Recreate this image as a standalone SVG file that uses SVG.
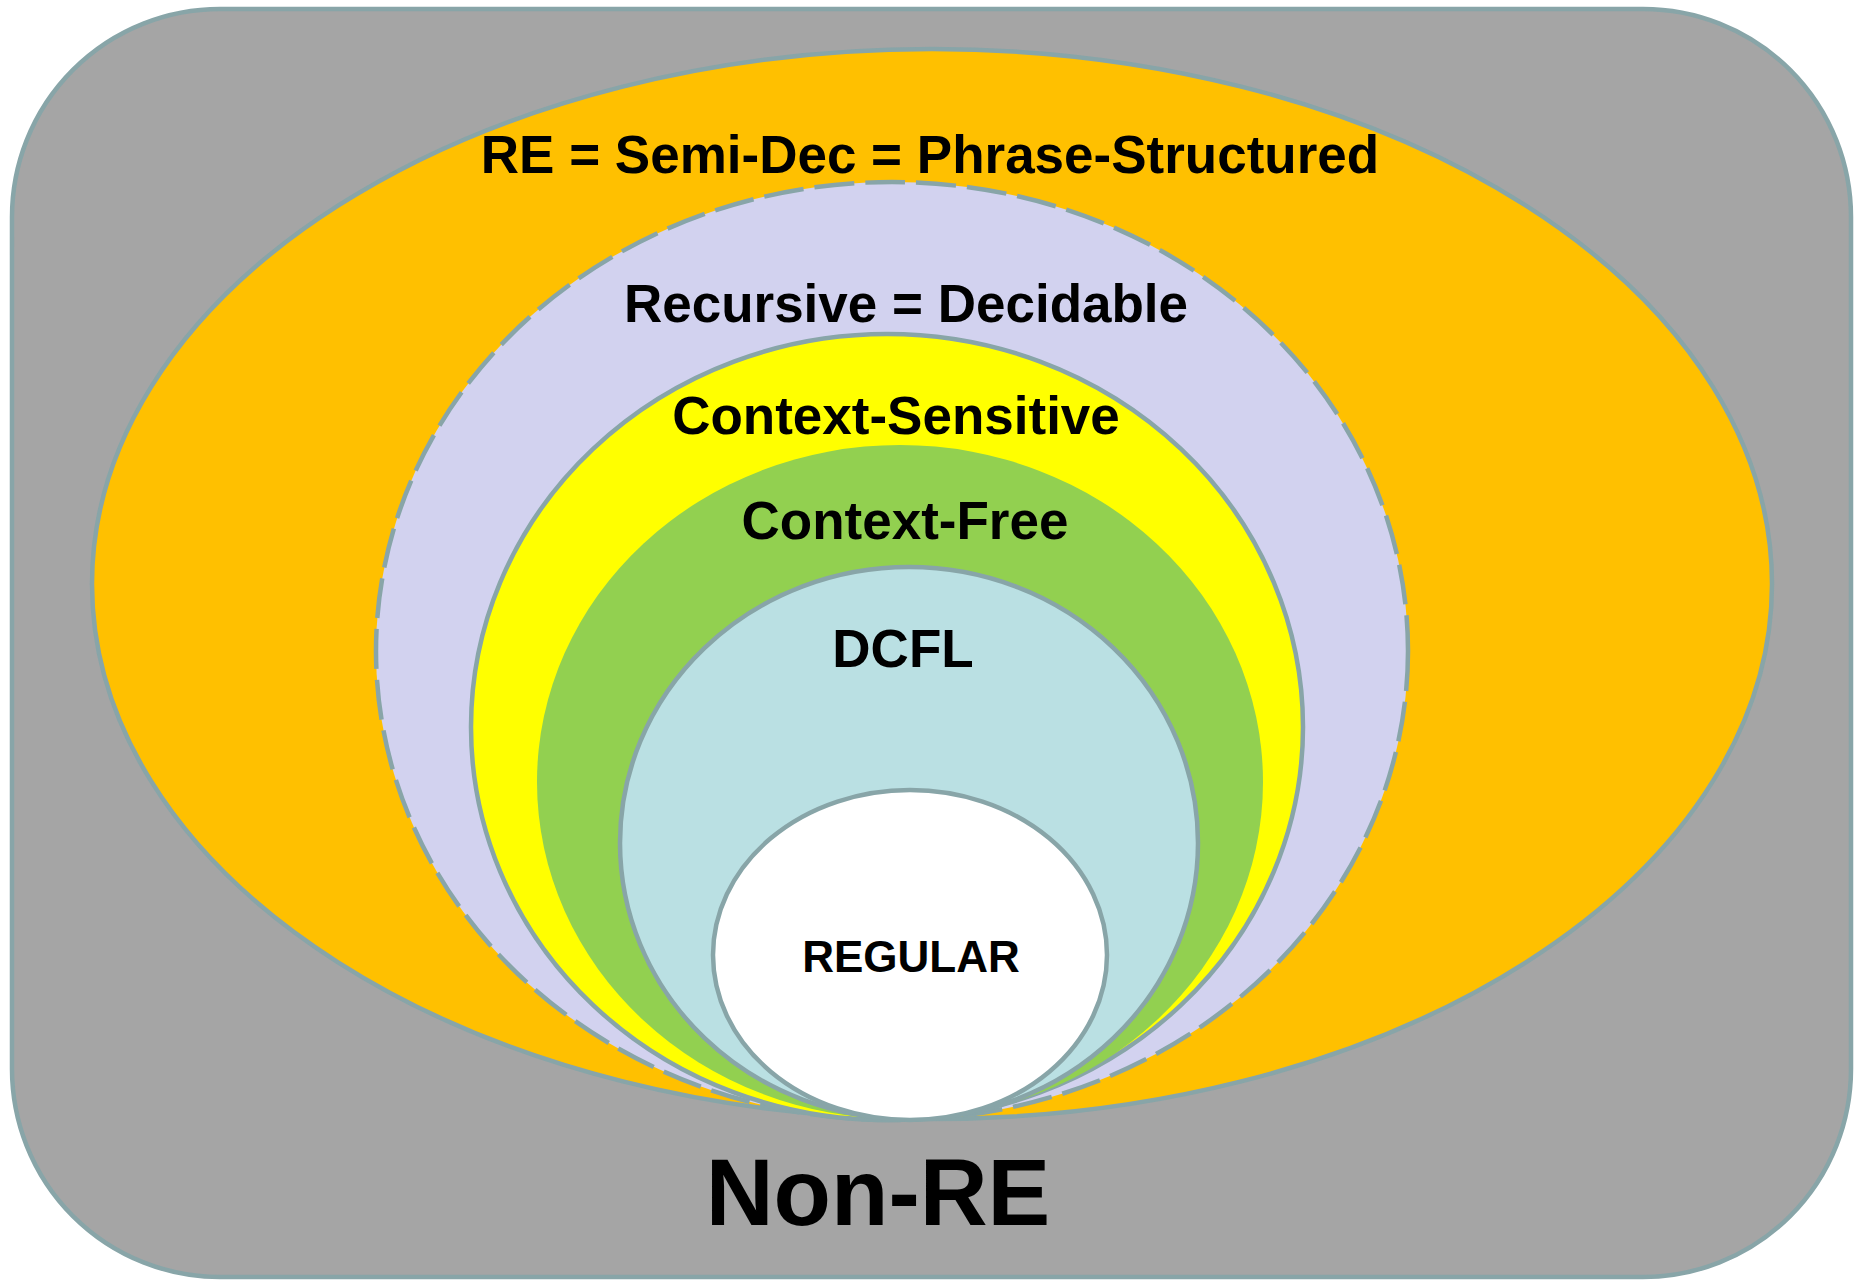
<svg xmlns="http://www.w3.org/2000/svg" width="1858" height="1280" viewBox="0 0 1858 1280">
  <style>
    .ln { stroke: #88A5A8; stroke-width: 4.5; }
    .lbl { font-family: "Liberation Sans", Arial, sans-serif; font-weight: bold; fill: #000; text-anchor: middle; }
  </style>
  <rect width="1858" height="1280" fill="#FFFFFF"/>
  <g id="non-re">
    <rect x="12" y="9" width="1839" height="1268" rx="208" ry="208" fill="#A5A5A5" class="ln" stroke-width="5"/>
    <text class="lbl" x="878" y="1225" font-size="94">Non-RE</text>
  </g>
  <g id="re">
    <ellipse cx="932" cy="584" rx="840" ry="535" fill="#FFC000" class="ln"/>
    <text class="lbl" x="930" y="173" font-size="53">RE = Semi-Dec = Phrase-Structured</text>
  </g>
  <g id="recursive">
    <ellipse cx="892" cy="651" rx="516" ry="469" fill="#D2D2EF" class="ln" stroke-dasharray="40 11"/>
    <text class="lbl" x="906" y="322" font-size="53">Recursive = Decidable</text>
  </g>
  <g id="context-sensitive">
    <ellipse cx="887" cy="727" rx="416" ry="393" fill="#FFFF00" class="ln"/>
    <text class="lbl" x="896" y="434" font-size="53">Context-Sensitive</text>
  </g>
  <g id="context-free">
    <ellipse cx="900" cy="782" rx="363" ry="337" fill="#92D050"/>
    <text class="lbl" x="905" y="539" font-size="53">Context-Free</text>
  </g>
  <g id="dcfl">
    <ellipse cx="909" cy="843" rx="289" ry="276" fill="#BAE0E3" class="ln"/>
    <text class="lbl" x="903" y="667" font-size="53">DCFL</text>
  </g>
  <g id="regular">
    <ellipse cx="910" cy="955" rx="197" ry="165" fill="#FFFFFF" class="ln"/>
    <text class="lbl" x="911" y="972" font-size="44">REGULAR</text>
  </g>
</svg>
